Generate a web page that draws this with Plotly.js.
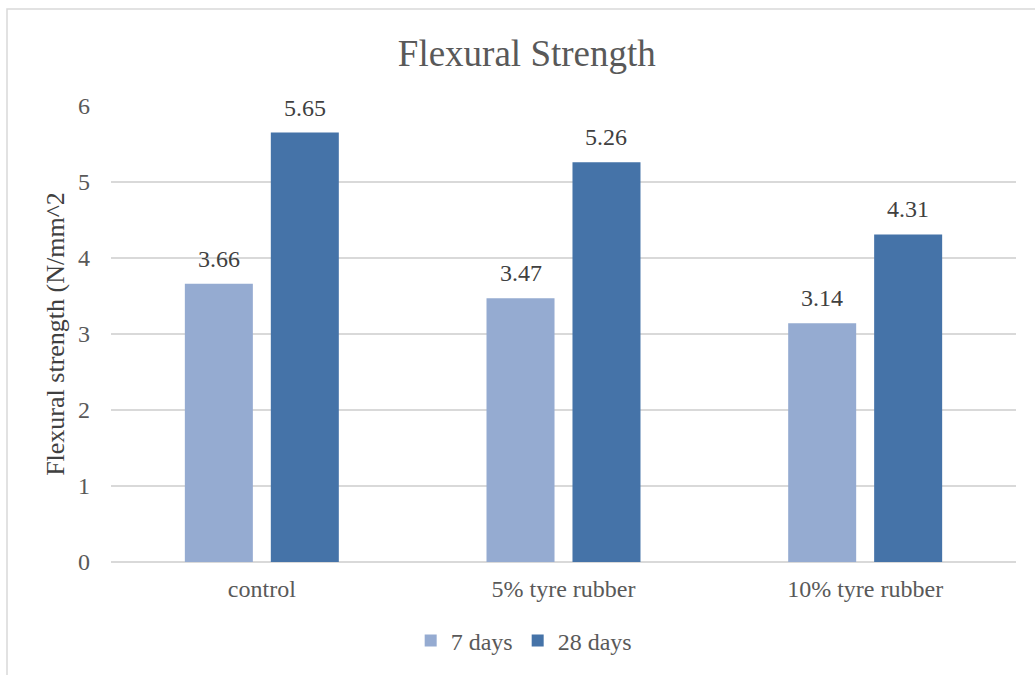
<!DOCTYPE html>
<html>
<head>
<meta charset="utf-8">
<script src="https://cdn.plot.ly/plotly-3.0.1.min.js"></script>
<style>html,body{margin:0;padding:0;background:#fff;}#chart{width:1035px;height:675px;}</style>
</head>
<body>
<div id="chart"></div>
<script>
const categories = ["control", "5% tyre rubber", "10% tyre rubber"];
const days7 = [3.66, 3.47, 3.14];
const days28 = [5.65, 5.26, 4.31];
const seriesNames = ["7 days", "28 days"];
const yTicks = [0, 1, 2, 3, 4, 5, 6];

const colors = ["#95abd1", "#4573a8"];
const font = "Liberation Serif";
const offsets = [-0.1425, 0.1425];

const traces = [days7, days28].map((vals, k) => ({
  type: "bar",
  name: seriesNames[k],
  x: categories,
  y: vals,
  marker: {color: colors[k]},
  hoverinfo: "x+y"
}));

const annotations = [];
[days7, days28].forEach((vals, k) => {
  vals.forEach((v, i) => {
    annotations.push({
      x: i + offsets[k], y: v, xref: "x", yref: "y",
      text: v.toFixed(2), showarrow: false,
      yanchor: "middle", yshift: 25,
      font: {family: font, size: 24, color: "#404040"}
    });
  });
});

const layout = {
  width: 1035, height: 675,
  margin: {l: 111, r: 19, t: 106, b: 113},
  paper_bgcolor: "#ffffff", plot_bgcolor: "#ffffff",
  barmode: "group", bargap: 0.43, bargroupgap: 0.209,
  font: {family: font, color: "#595959"},
  title: {text: "Flexural Strength", x: 0.509, xanchor: "center", y: 1 - 53/675, yanchor: "middle",
          font: {family: font, size: 37, color: "#595959"}},
  xaxis: {type: "category", showgrid: false, zeroline: false, showline: false, ticks: "",
          tickfont: {family: font, size: 24, color: "#595959"}, ticklabelstandoff: 10},
  yaxis: {range: [0, 6], tickvals: yTicks, showgrid: true, gridcolor: "#d9d9d9", gridwidth: 1.3,
          zeroline: true, zerolinecolor: "#d9d9d9", zerolinewidth: 1.3, showline: false, ticks: "",
          tickfont: {family: font, size: 24, color: "#595959"}, ticklabelstandoff: 20,
          title: {text: "Flexural strength (N/mm^2", font: {family: font, size: 26, color: "#404040"}, standoff: 5}},
  showlegend: true,
  legend: {orientation: "h", x: 0.456, xanchor: "center", y: -(641-562)/456, yanchor: "middle",
           font: {family: font, size: 24, color: "#595959"}, itemwidth: 30},
  annotations: annotations,
  shapes: [{type: "rect", xref: "paper", yref: "paper",
            x0: (7-111)/905, x1: 1.2, y0: -0.5, y1: 1 + (106-9)/456,
            line: {color: "#d9d9d9", width: 1.5}, fillcolor: "rgba(0,0,0,0)", layer: "below"}]
};

Plotly.newPlot("chart", traces, layout, {displayModeBar: false, staticPlot: true});
</script>
</body>
</html>
